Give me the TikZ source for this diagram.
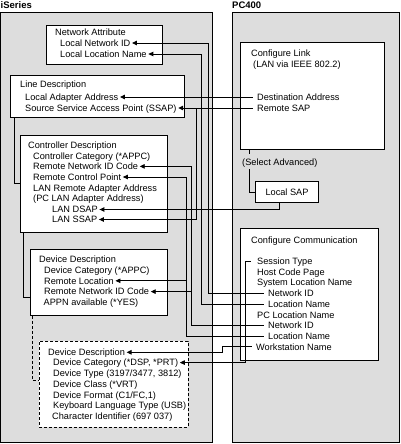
\documentclass[tikz,border=0pt]{standalone}
\usepackage{fontspec}
\setmainfont{Liberation Sans}
\usetikzlibrary{arrows.meta}
\definecolor{panelgray}{RGB}{221,221,221}
\begin{document}
\begin{tikzpicture}[x=1pt,y=-1pt,
  txt/.style={anchor=west,inner xsep=1.5pt,inner ysep=0.5pt,font=\fontsize{9.2}{11}\selectfont,text height=6.6pt,text depth=0pt},
  ttl/.style={anchor=west,inner sep=0pt,font=\fontsize{9.5}{11}\selectfont\bfseries,text height=7pt,text depth=0pt},
  panel/.style={draw=black,fill=panelgray,line width=0.9pt},
  box/.style={draw=black,fill=white,line width=0.9pt,inner sep=0pt,anchor=north west},
  dbox/.style={box,dash pattern=on 3pt off 2pt},
  wire/.style={draw=black,line width=0.9pt},
  arr/.style={wire,{Triangle[length=5pt,width=4.5pt]}-,shorten >=3pt},
]
\useasboundingbox (0,0) rectangle (400,444);
% panels
\draw[panel] (0.5,12) rectangle (212,442);
\draw[panel] (232,12) rectangle (399,442);
\node[ttl] (tIS) at (0.5,5.5) {iSeries};
\node[ttl] (tPC) at (232,5.5) {PC400};
% boxes
\node[box,minimum width=116pt,minimum height=39pt] (bNA) at (46,25) {};
\node[box,minimum width=174pt,minimum height=42pt] (bLD) at (10,75) {};
\node[box,minimum width=147pt,minimum height=97pt] (bCD) at (20,135) {};
\node[box,minimum width=137pt,minimum height=66pt] (bDD) at (30,249) {};
\node[dbox,minimum width=149pt,minimum height=86pt] (bEE) at (39,341) {};
\node[box,minimum width=144pt,minimum height=107pt] (bCL) at (240,42) {};
\node[box,minimum width=63pt,minimum height=21pt,anchor=center,font=\fontsize{9.2}{11}\selectfont] (bLS) at (287,192) {Local SAP};
\node[box,minimum width=138pt,minimum height=132pt] (bCC) at (240,228) {};
% texts iSeries
\node[txt] (na0) at (53.5,32.3) {Network Attribute};
\node[txt] (na1) at (58.5,43) {Local Network ID};
\node[txt] (na2) at (58.5,54) {Local Location Name};
\node[txt] (ld0) at (18.5,84) {Line Description};
\node[txt] (ld1) at (23.5,97) {Local Adapter Address};
\node[txt] (ld2) at (23.5,108) {Source Service Access Point (SSAP)};
\node[txt] (cd0) at (26.5,145) {Controller Description};
\node[txt] (cd1) at (31.5,155.7) {Controller Category (*APPC)};
\node[txt] (cd2) at (31.5,166.4) {Remote Network ID Code};
\node[txt] (cd3) at (31.5,177) {Remote Control Point};
\node[txt] (cd4) at (31.5,187.7) {LAN Remote Adapter Address};
\node[txt] (cd5) at (31.5,198.4) {(PC LAN Adapter Address)};
\node[txt] (cd6) at (50.5,209.5) {LAN DSAP};
\node[txt] (cd7) at (50.5,219.5) {LAN SSAP};
\node[txt] (dd0) at (37.5,259) {Device Description};
\node[txt] (dd1) at (42.5,269.8) {Device Category (*APPC)};
\node[txt] (dd2) at (42.5,280.8) {Remote Location};
\node[txt] (dd3) at (42.5,291.6) {Remote Network ID Code};
\node[txt] (dd4) at (42,302.5) {APPN available (*YES)};
\node[txt] (ee0) at (46.5,352.3) {Device Description};
\node[txt] (ee1) at (51.5,362.6) {Device Category (*DSP, *PRT)};
\node[txt] (ee2) at (51.5,373.5) {Device Type (3197/3477, 3812)};
\node[txt] (ee3) at (51.5,384.1) {Device Class (*VRT)};
\node[txt] (ee4) at (51.5,394.7) {Device Format (C1/FC,1)};
\node[txt] (ee5) at (51.5,405.3) {Keyboard Language Type (USB)};
\node[txt] (ee6) at (50.5,415.9) {Character Identifier (697 037)};
% texts PC400
\node[txt] (cl0) at (249.5,53.5) {Configure Link};
\node[txt] (cl1) at (251.5,64.5) {(LAN via IEEE 802.2)};
\node[txt] (cl2) at (255.5,97) {Destination Address};
\node[txt] (cl3) at (255.5,108) {Remote SAP};
\node[txt] (sa) at (240.5,162) {(Select Advanced)};
\node[txt] (cc0) at (249.5,240) {Configure Communication};
\node[txt] (cc1) at (255.5,261) {Session Type};
\node[txt] (cc2) at (255.5,271.7) {Host Code Page};
\node[txt] (cc3) at (255.5,282.4) {System Location Name};
\node[txt] (cc4) at (266.5,293.5) {Network ID};
\node[txt] (cc5) at (266.5,304.3) {Location Name};
\node[txt] (cc6) at (255.5,314.8) {PC Location Name};
\node[txt] (cc7) at (266.5,325.3) {Network ID};
\node[txt] (cc8) at (266.5,336) {Location Name};
\node[txt] (cc9) at (254.5,346.8) {Workstation Name};
% routing columns
\coordinate (v186) at (186,0);
\coordinate (v191) at (191,0);
\coordinate (v196) at (196,0);
\coordinate (v201) at (201,0);
\coordinate (v208) at (208,0);
\coordinate (v222) at (222,0);
\coordinate (v245) at (245,0);
\coordinate (v249) at (249,0);
\coordinate (v279) at (279,0);
\coordinate (r183) at (0,183);
\coordinate (r297) at (0,297);
\coordinate (r380) at (0,380);
% connectors
\draw[arr] (na1.east) -- (na1.east -| v208) |- (cc4.west);
\draw[arr] (na2.east) -- (na2.east -| v201) |- (cc5.west);
\draw[arr] (ld1.east) -- (ld1.east -| cl2.west);
\draw[arr] (ld2.east) -- (ld2.east -| cl3.west);
\draw[arr,shorten >=0pt] (cd7.east) -- (cd7.east -| v196) -- (v196 |- ld2.east);
\draw[arr] (cd2.east) -- (cd2.east -| v191) |- (cc7.west);
\draw[arr,shorten >=0pt] (dd3.east) -- (dd3.east -| v191);
\draw[arr] (cd3.east) -- (cd3.east -| v186) |- (cc8.west);
\draw[arr,shorten >=0pt] (dd2.east) -- (dd2.east -| v186);
\draw[arr,shorten >=0pt] (cd6.east) -- (cd6.east -| v279) -- (v279 |- bLS.south);
\draw[arr] (ee0.east) -- (ee0.east -| v222) |- (cc9.west);
\draw[arr,shorten >=4.5pt] (ee1.east) -- (ee1.east -| v245) |- (cc1.west);
% link to Local SAP
\draw[wire] (bCL.south -| v249) -- ++(0,4);
\draw[wire] ([yshift=-3pt]sa.south -| v249) |- (bLS.west);
% brackets
\draw[wire] ([xshift=4pt]bLD.south west) |- (bCD.west |- r183);
\draw[wire] ([xshift=3pt]bCD.south west) |- (bDD.west |- r297);
\draw[wire,dash pattern=on 3pt off 2pt] ([xshift=2pt]bDD.south west) |- (bEE.west |- r380);
\end{tikzpicture}
\end{document}
